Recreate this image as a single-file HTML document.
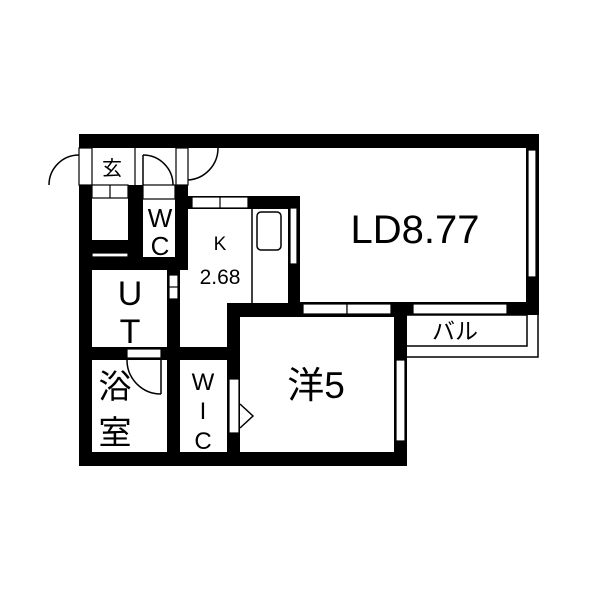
<!DOCTYPE html>
<html><head><meta charset="utf-8"><style>html,body{margin:0;padding:0;background:#fff}svg{display:block}</style></head><body>
<svg width="600" height="600" viewBox="0 0 600 600" xmlns="http://www.w3.org/2000/svg" font-family="Liberation Sans, Noto Sans CJK JP, sans-serif">
<rect width="600" height="600" fill="#fff"/>
<g fill="#000">
<rect x="79" y="134" width="460" height="14"/>
<rect x="526" y="134" width="13" height="181"/>
<rect x="79" y="185" width="13" height="281"/>
<rect x="79" y="452" width="328" height="14"/>
<rect x="394" y="302" width="13" height="164"/>
<rect x="128" y="185" width="15" height="85"/>
<rect x="175" y="185" width="13" height="85"/>
<rect x="79" y="240" width="64" height="30"/>
<rect x="79" y="257" width="109" height="13"/>
<rect x="188" y="196" width="112" height="13"/>
<rect x="288" y="196" width="12" height="120"/>
<rect x="167" y="258" width="13" height="200"/>
<rect x="79" y="347" width="148" height="13"/>
<rect x="227" y="303" width="13" height="163"/>
<rect x="227" y="303" width="180" height="14"/>
<rect x="300" y="302" width="239" height="13"/>
<rect x="394" y="302" width="13" height="58"/>
</g>
<g fill="#fff" stroke="#000" stroke-width="1.2">
<rect x="79" y="148" width="13" height="37"/>
<rect x="176" y="148" width="12" height="37"/>
<line x1="135" y1="148" x2="135" y2="185"/>
<rect x="92" y="185" width="36" height="13"/>
<line x1="110" y1="185" x2="110" y2="198"/>
<rect x="92" y="253" width="36" height="4"/>
<rect x="143" y="185" width="32" height="14"/>
<rect x="192" y="197" width="56" height="11"/>
<line x1="220" y1="197" x2="220" y2="208"/>
<rect x="290" y="208" width="7" height="56"/>
<rect x="169" y="275" width="9" height="24"/>
<line x1="169" y1="287" x2="178" y2="287"/>
<rect x="127" y="349" width="34" height="9"/>
<rect x="229" y="379" width="10" height="54"/>
<rect x="303" y="304" width="44" height="10"/>
<rect x="347" y="304" width="44" height="10"/>
<rect x="413" y="304" width="94" height="10"/>
<rect x="528" y="150" width="8" height="127"/>
<rect x="396" y="360" width="9" height="81"/>
</g>
<g fill="none" stroke="#000" stroke-width="1.5">
<path d="M49 185 A30 30 0 0 1 79 155"/>
<path d="M218 148 A32 32 0 0 1 188 180"/>
<path d="M143 155 A30 30 0 0 1 173 185"/>
<line x1="143" y1="155" x2="143" y2="185"/>
<path d="M127 360 A34 34 0 0 0 161 394"/>
<line x1="161" y1="360" x2="161" y2="394"/>
<path d="M240 404 L253 416 L240 428"/>
<line x1="252" y1="209" x2="252" y2="303"/>
<rect x="257" y="212" width="24" height="38" rx="4"/>
<polyline points="407,315 527,315 527,346 407,346"/>
<polyline points="538,315 538,357 407,357"/>
</g>
<g fill="#000" text-anchor="middle">
<text x="112" y="175" font-size="20">玄</text>
<text x="160" y="227" font-size="26">W</text>
<text x="160" y="255" font-size="26">C</text>
<text x="220" y="250" font-size="19">K</text>
<text x="220" y="284" font-size="21">2.68</text>
<text x="415" y="243" font-size="40">LD8.77</text>
<text x="130" y="305" font-size="34">U</text>
<text x="130" y="343" font-size="34">T</text>
<text x="115" y="398" font-size="33">浴</text>
<text x="115" y="444" font-size="33">室</text>
<text x="203" y="390" font-size="24">W</text>
<text x="203" y="419" font-size="24">I</text>
<text x="203" y="449" font-size="24">C</text>
<text x="316" y="398" font-size="37">洋5</text>
<text x="455" y="339" font-size="23">バル</text>
</g>
</svg>
</body></html>
